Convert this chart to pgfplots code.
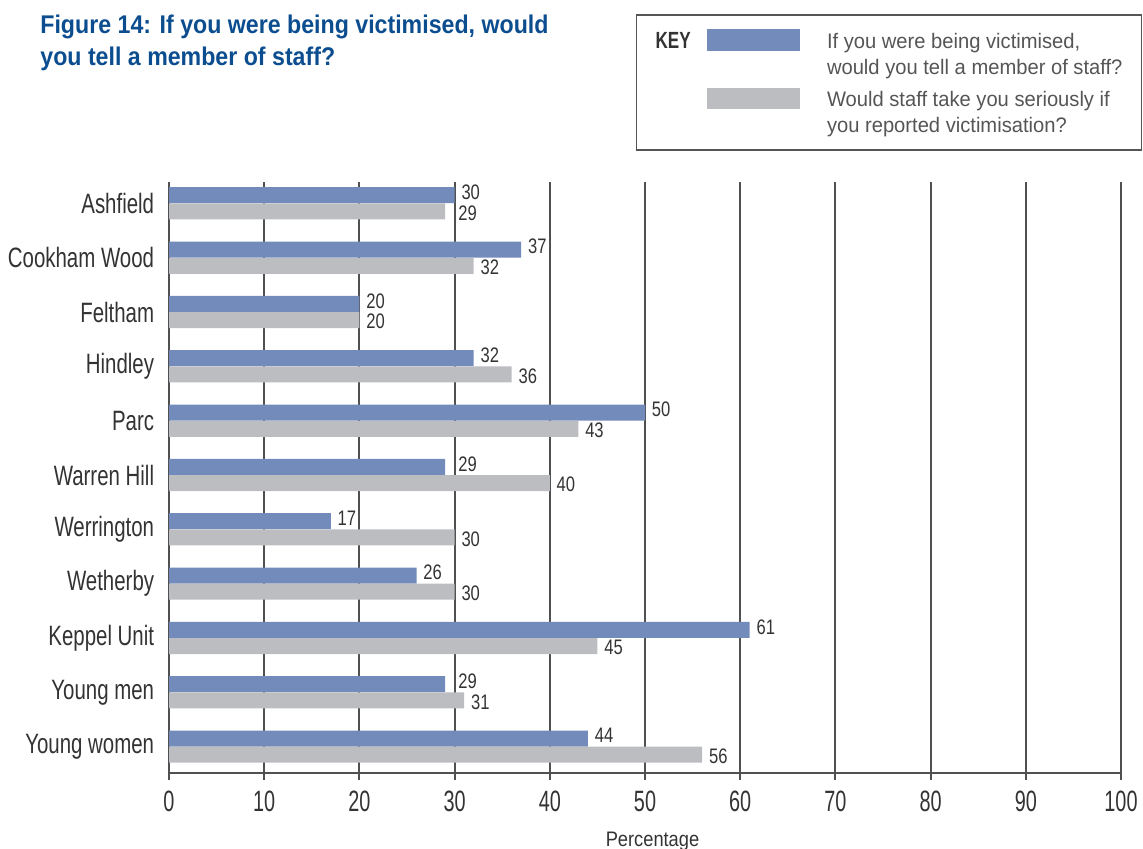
\documentclass[border=0pt]{standalone}
\usepackage{fontspec}
\setmainfont{Liberation Sans}[FakeStretch=0.73]
\newfontfamily\tickfont{Liberation Sans}[FakeStretch=0.675]
\newfontfamily\xlabfont{Liberation Sans}[FakeStretch=0.87]
\newfontfamily\labfont{Liberation Sans}[FakeStretch=0.79]
\newfontfamily\keyfont{Liberation Sans}[FakeStretch=0.73]
\newfontfamily\titlefont{Liberation Sans}[FakeStretch=0.905]
\newfontfamily\legfont{Liberation Sans}[FakeStretch=0.96]
\usepackage{pgfplots}
\pgfplotsset{compat=1.18}
\usepackage{pgfplotstable}
\definecolor{barblue}{HTML}{728BBB}
\definecolor{bargray}{HTML}{BCBDC1}
\definecolor{gridgray}{HTML}{505050}
\definecolor{titleblue}{HTML}{0B4D8F}
\definecolor{txt}{HTML}{333333}
\definecolor{keytxt}{HTML}{555555}
\definecolor{keyborder}{HTML}{555555}

% y: 10 = Ashfield ... 0 = Young women
\pgfplotstableread{
y val off
10 30 3.25
9 37 3.25
8 20 3.25
7 32 3.25
6 50 3.25
5 29 6.5
4 17 3.25
3 26 3.25
2 61 3.25
1 29 6.5
0 44 3.25
}\tell
\pgfplotstableread{
y val off
10 29 6.5
9 32 3.25
8 20 3.25
7 36 3.25
6 43 3.25
5 40 3.25
4 30 3.25
3 30 3.25
2 45 3.25
1 31 3.25
0 56 3.25
}\serious

\begin{document}
\begin{tikzpicture}
\path[use as bounding box] (0pt,0pt) rectangle (571.5pt,-424.5pt);

% title
\node[anchor=north west, inner sep=0pt, align=left, text=titleblue,
      font=\titlefont\bfseries\fontsize{12.8}{16}\selectfont] at (20pt,-7.3pt)
  {Figure 14: If you were being victimised, would\\you tell a member of staff?};

% key box
\draw[keyborder, line width=0.6pt] (318.4pt,-7.5pt) rectangle (570.8pt,-75pt);
\node[anchor=base west, inner sep=0pt, text=txt, font=\keyfont\bfseries\fontsize{11.7}{14}\selectfont] at (327.6pt,-24.2pt) {KEY};
\fill[barblue] (353.5pt,-14.6pt) rectangle (400pt,-25.4pt);
\fill[bargray] (353.5pt,-44.1pt) rectangle (400pt,-54.7pt);
\node[anchor=base west, inner sep=0pt, align=left, text=keytxt, font=\legfont\fontsize{10.5}{13.1}\selectfont] at (413.3pt,-37.5pt)
  {If you were being victimised,\\would you tell a member of staff?};
\node[anchor=base west, inner sep=0pt, align=left, text=keytxt, font=\legfont\fontsize{10.5}{13.1}\selectfont] at (413.3pt,-66.2pt)
  {Would staff take you seriously if\\you reported victimisation?};

\begin{axis}[
  at={(84.5pt,-386.35pt)}, anchor=south west,
  scale only axis, width=476pt, height=295.5pt,
  xbar=0pt, bar width=8pt,
  xmin=0, xmax=100, xtick={0,10,...,100},
  ymin=-0.478, ymax=10.40,
  ytick={0,...,10},
  yticklabels={Young women,Young men,Keppel Unit,Wetherby,Werrington,Warren Hill,Parc,Hindley,Feltham,Cookham Wood,Ashfield},
  axis x line=bottom, axis y line=left,
  x axis line style={gridgray, line width=1pt, -},
  y axis line style={draw=none},
  ytick style={draw=none},
  xtick style={gridgray, line width=1pt},
  xtick align=outside, major tick length=3.5pt,
  xmajorgrids, major grid style={gridgray, line width=1pt},
  /pgf/number format/assume math mode=true,
  xticklabel style={font=\tickfont\fontsize{14.7}{16}\selectfont, text=txt, inner sep=0pt, yshift=-5.5pt},
  yticklabel style={font=\fontsize{14}{16}\selectfont, text=txt, inner sep=0pt, anchor=east, xshift=-5.5pt},
  xlabel={Percentage},
  xlabel style={at={(axis description cs:0.5,0)}, anchor=north, inner sep=0pt,
                font=\xlabfont\fontsize{10.5}{12}\selectfont, text=txt, yshift=-29.3pt, xshift=3.75pt},
  visualization depends on={\thisrow{off} \as \myoff},
  nodes near coords,
  nodes near coords style={font=\labfont\fontsize{10.5}{12}\selectfont, text=txt, anchor=west, inner sep=0pt, xshift=\myoff pt},
  point meta=explicit symbolic,
]
\addplot[fill=barblue, draw=none, bar shift=4.1pt,
  nodes near coords style={yshift=1.5pt}] table[x=val, y=y, meta=val] {\tell};
\addplot[fill=bargray, draw=none, bar shift=-4pt,
  nodes near coords style={yshift=-0.75pt}] table[x=val, y=y, meta=val] {\serious};
\end{axis}
\end{tikzpicture}
\end{document}
